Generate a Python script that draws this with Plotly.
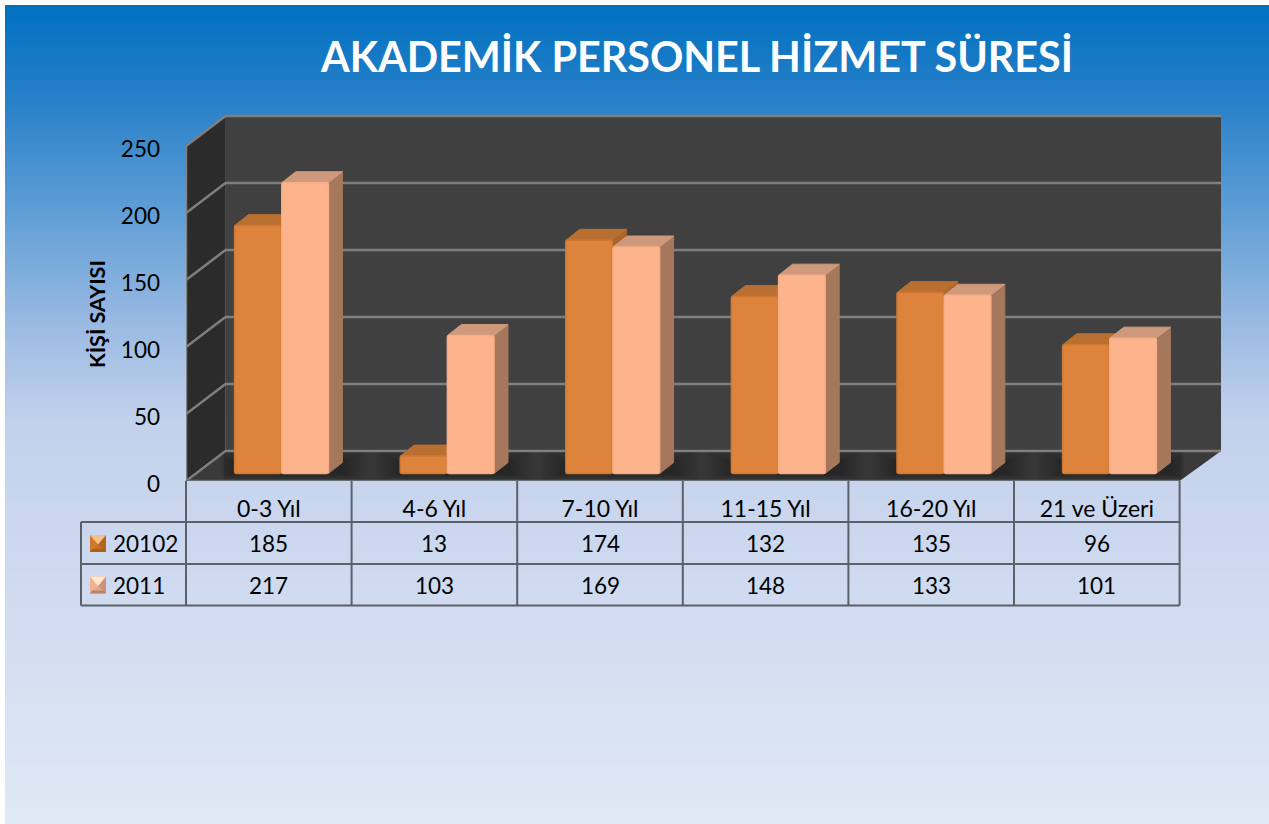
import plotly.graph_objects as go

categories = ["0-3 Yıl", "4-6 Yıl", "7-10 Yıl", "11-15 Yıl", "16-20 Yıl", "21 ve Üzeri"]
series_2010 = [185, 13, 174, 132, 135, 96]
series_2011 = [217, 103, 169, 148, 133, 101]
series_names = ["20102", "2011"]
y_ticks = [0, 50, 100, 150, 200, 250]

W, H = 1269, 824
X0, X1, Y0, Y1 = 186, 1224, 481, 112   # plot area in page pixels
CAT_PX = 165.6
UNIT_PX = 1.34
FONT = "Lato"

xr = [-0.5, -0.5 + (X1 - X0) / CAT_PX]
yr = [0, (Y0 - Y1) / UNIT_PX]
WALL_DX = 39.5 / CAT_PX
WALL_DY = 30 / UNIT_PX
WALL_R = -0.5 + (1221 - X0) / CAT_PX
BAR_W = 46.6 / CAT_PX
BAR_GAP = 0.6 / CAT_PX
BAR_SHIFT = 12.7 / CAT_PX
BAR_BASE = 7.5 / UNIT_PX
DEPTH_X = 14 / CAT_PX
DEPTH_Y = 11 / UNIT_PX


def px(x):
    return (x - X0) / (X1 - X0)


def py(y):
    return (Y0 - y) / (Y0 - Y1)


def poly(pts):
    return "M" + " L".join(f"{a:.5f},{b:.5f}" for a, b in pts) + " Z"


stops = [(5, (0, 112, 192)), (100, (40, 128, 200)), (200, (90, 155, 212)), (250, (116, 168, 218)),
         (330, (157, 188, 227)), (420, (194, 209, 236)), (824, (225, 232, 245))]


def grad(y):
    for (a, ca), (b, cb) in zip(stops, stops[1:]):
        if y <= b:
            t = (y - a) / (b - a)
            return "rgb(" + ",".join(str(round(p + (q - p) * t)) for p, q in zip(ca, cb)) + ")"
    return "rgb(225,232,245)"


shapes = []
for y in range(5, H, 3):
    shapes.append(dict(type="rect", xref="paper", yref="paper", layer="below", x0=px(5), x1=px(W),
                       y0=py(y), y1=py(H), fillcolor=grad(y), line_width=0))

xl, xf = xr[0], xr[0] + 6
BACK = "#404040"
SIDE = "#2b2b2b"
GRID = "#7f7f7f"


def dpath(pts, fill, line=None, width=0):
    shapes.append(dict(type="path", xref="x", yref="y", layer="below", path=poly(pts), fillcolor=fill,
                       line=dict(color=line or fill, width=width)))


def dline(pts, color=GRID, width=2.5):
    shapes.append(dict(type="path", xref="x", yref="y", layer="below",
                       path="M" + " L".join(f"{a:.5f},{b:.5f}" for a, b in pts),
                       line=dict(color=color, width=width)))


top = y_ticks[-1]
dpath([(xl + WALL_DX, WALL_DY), (xl + WALL_DX, top + WALL_DY), (WALL_R, top + WALL_DY), (WALL_R, WALL_DY)], BACK)
dpath([(xl, 0), (xl, top), (xl + WALL_DX, top + WALL_DY), (xl + WALL_DX, WALL_DY)], SIDE)
dpath([(xl, 0), (xl + WALL_DX, WALL_DY), (WALL_R, WALL_DY), (xf, 0)], "#3a3a3a")
for t in y_ticks:
    dline([(xl, t), (xl + WALL_DX, t + WALL_DY), (WALL_R, t + WALL_DY)])
dline([(xl, 0), (xl, top)])
dline([(xl, 0), (xf, 0)], "#666c74", 2.5)

# soft floor shadow around each pair of bars, kept inside the floor
for i in range(len(categories)):
    for grow in range(30, 1, -3):
        g = grow / CAT_PX
        v = grow * 0.25 / UNIT_PX
        lo, hi = max(BAR_BASE - v, 0.8), min(BAR_BASE + DEPTH_Y + v * 2, WALL_DY - 0.8)
        sl, sr = i + BAR_SHIFT - BAR_W - g, i + BAR_SHIFT + BAR_W + DEPTH_X + g
        sl = max(sl, xl + WALL_DX * hi / WALL_DY)
        sr = min(sr, xf + (WALL_R - xf) * lo / WALL_DY)
        dpath([(sl, lo), (sr, lo), (sr, hi), (sl, hi)], "rgba(0,0,0,0.03)")

series = [
    (series_2010, BAR_SHIFT - BAR_W - BAR_GAP / 2, "#de833b", "#cf7932", "#b96f30", "#a9652b"),
    (series_2011, BAR_SHIFT + BAR_GAP / 2, "#fdb38c", "#f7ae87", "#cf9a7c", "#a5785c"),
]
for vals, off, _, _, ctop, cside in series:
    for i, v in enumerate(vals):
        l, r = i + off, i + off + BAR_W
        t = v + BAR_BASE
        dpath([(r, BAR_BASE), (r, t), (r + DEPTH_X, t + DEPTH_Y), (r + DEPTH_X, BAR_BASE + DEPTH_Y)], cside, cside, 1)
        dpath([(l, t), (r, t), (r + DEPTH_X, t + DEPTH_Y), (l + DEPTH_X, t + DEPTH_Y)], ctop, ctop, 1)

TABLE = "#5b6169"
rows = [522, 564, 605.5]
col_x = [X0 + CAT_PX * i for i in range(7)]
for y in rows:
    shapes.append(dict(type="line", xref="paper", yref="paper", x0=px(81), x1=px(col_x[-1]), y0=py(y), y1=py(y),
                       line=dict(color=TABLE, width=2)))
for x in col_x:
    shapes.append(dict(type="line", xref="paper", yref="paper", x0=px(x), x1=px(x), y0=py(481), y1=py(rows[-1]),
                       line=dict(color=TABLE, width=2)))
shapes.append(dict(type="line", xref="paper", yref="paper", x0=px(81), x1=px(81), y0=py(rows[0]), y1=py(rows[-1]),
                   line=dict(color=TABLE, width=2)))

icons = [(543.5, "#c8702a", "#f6c08a", "#a9601f", "#d0792f", "#b4661f"),
         (585, "#e8a888", "#ffe6cf", "#b98468", "#eeb294", "#cc9476")]
for cy, mid, lite, dark, side1, side2 in icons:
    a, b, c, d = 90, 106, cy - 8.5, cy + 8.5
    mx, my = (a + b) / 2, (c + d) / 2
    for pts, col in [([(a, c), (b, c), (b, d), (a, d)], mid),
                     ([(a, c), (mx, my + 1), (a, d)], side1),
                     ([(b, c), (mx, my + 1), (b, d)], side2),
                     ([(a, c), (b, c), (mx, my + 1)], lite),
                     ([(a, d), (b, d), (b - 2, d - 3), (a + 2, d - 3)], dark)]:
        shapes.append(dict(type="path", xref="paper", yref="paper",
                           path=poly([(px(p), py(q)) for p, q in pts]), fillcolor=col, line_width=0))

annotations = [
    dict(text="KİŞİ SAYISI", textangle=-90, xref="paper", yref="paper", x=px(97), y=py(314), showarrow=False,
         xanchor="center", yanchor="middle",
         font=dict(family=FONT, size=21.5, color="black", weight="bold"))
]
row_mid = [543, 585]
for name, vals, ym in zip(series_names, [series_2010, series_2011], row_mid):
    annotations.append(dict(text=name, xref="paper", yref="paper", x=px(111), y=py(ym), xanchor="left",
                            yanchor="middle", showarrow=False, font=dict(family=FONT, size=22.5, color="black")))
    for i, v in enumerate(vals):
        annotations.append(dict(text=str(v), xref="x", yref="paper", x=i, y=py(ym), xanchor="center",
                                yanchor="middle", showarrow=False, font=dict(family=FONT, size=22.5, color="black")))

fig = go.Figure()
for name, (vals, off, col, edge, _, _) in zip(series_names, series):
    fig.add_trace(go.Bar(x=list(range(len(categories))), y=vals, base=BAR_BASE, offset=off, width=BAR_W, name=name,
                         marker=dict(color=col, line=dict(color=edge, width=1.5), cornerradius=2)))

fig.update_layout(
    width=W, height=H, margin=dict(l=X0, r=W - X1, t=Y1, b=H - Y0, autoexpand=False),
    paper_bgcolor="white", plot_bgcolor="rgba(0,0,0,0)", barmode="overlay", showlegend=False,
    font=dict(family=FONT, color="black"),
    title=dict(text="AKADEMİK PERSONEL HİZMET SÜRESİ", x=697 / W, y=1 - 58 / H, xanchor="center", yanchor="middle",
               font=dict(family=FONT, size=41.3, color="white", weight="bold")),
    xaxis=dict(range=xr, tickmode="array", tickvals=list(range(len(categories))), ticktext=categories,
               showgrid=False, zeroline=False, showline=False, ticks="", ticklabelstandoff=12,
               tickfont=dict(family=FONT, size=23)),
    yaxis=dict(range=yr, tickmode="array", tickvals=y_ticks, showgrid=False, zeroline=False, showline=False,
               ticks="", ticklabelstandoff=25, ticklabelshift=3, tickfont=dict(family=FONT, size=22.5)),
    shapes=shapes, annotations=annotations,
)
fig.write_html("out.html", config={"displayModeBar": False},
               post_script="document.body.style.margin='0';document.documentElement.style.overflow='hidden';")
